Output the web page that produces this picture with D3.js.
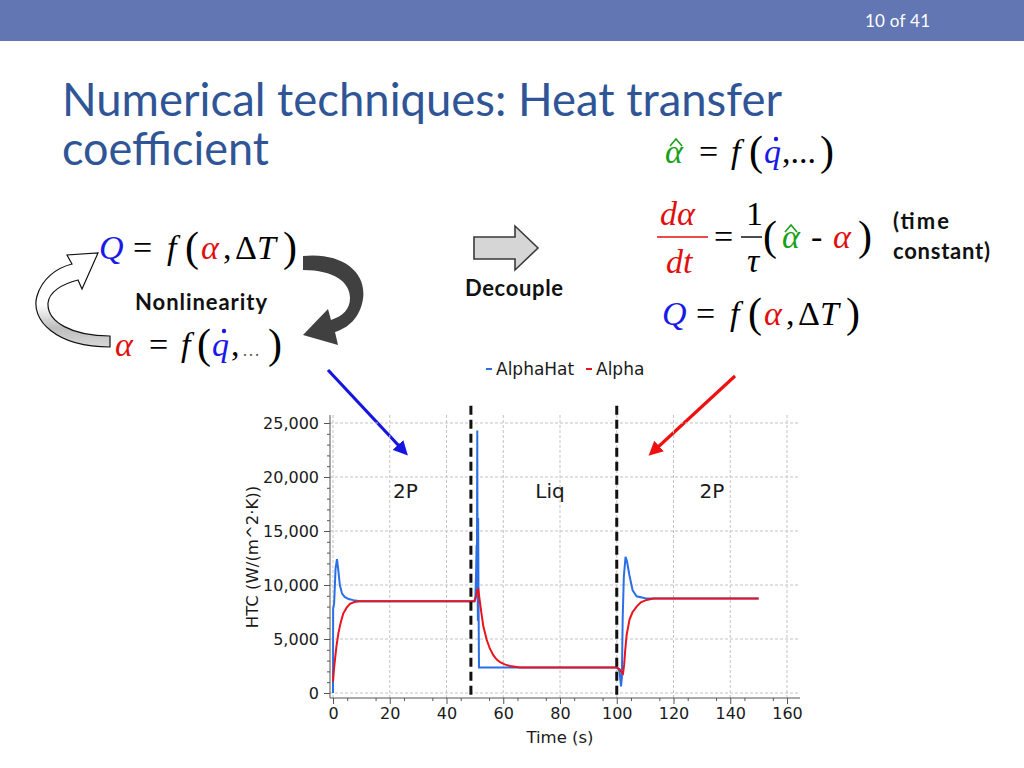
<!DOCTYPE html>
<html>
<head>
<meta charset="utf-8">
<script src="https://cdn.jsdelivr.net/npm/d3@7"></script>
<style>
body{margin:0;background:#fff;}
svg{display:block;}
</style>
</head>
<body>
<div id="vis-container"></div>
<script>
// [time (s), HTC (W/(m^2*K))]
const alphaHat = [[0,0],[0.05,7800],[0.4,8300],[0.9,11500],[1.4,12400],[1.9,11300],[2.4,10000],[3.2,9200],[4.1,8900],
    [5.5,8700],[7.2,8600],[9.5,8500],[49.9,8500],[50.2,9000],[50.45,11400],[50.6,13700],[50.7,9200],[50.85,24300],
    [50.95,12000],[51.05,6700],[51.15,16200],[51.3,8000],[51.45,2350],[100,2350],[100.5,2250],[101,1950],[101.5,600],
    [101.8,1400],[102.1,7000],[102.5,10800],[103.1,12600],[103.6,12200],[104.4,11000],[105.6,9500],[107,8950],
    [110,8780],[113,8750],[150,8750]];
const alpha = [[0,1050],[0.35,2200],[0.7,3100],[1.2,4300],[1.9,5550],[2.7,6500],[3.6,7350],[4.8,7900],[6,8250],
    [7.5,8420],[9.5,8500],[49.8,8500],[50.3,8800],[50.8,9500],[51.2,9600],[51.8,8400],[52.4,7200],[53,6150],
    [54.2,4900],[55.3,4100],[56.5,3500],[57.7,3100],[58.9,2850],[60.5,2650],[62.4,2500],[65.9,2370],[68,2350],
    [100,2350],[101,2200],[101.6,1950],[102.2,1800],[102.6,2600],[103,4000],[103.5,5400],[104.5,6800],[105.5,7450],
    [107,8000],[108.5,8400],[110.5,8620],[113,8750],[150,8750]];
const phaseTimes = [48.6, 100];
const phaseNames = ["2P", "Liq", "2P"];
const phaseNameTimes = [25.5, 76.5, 133.5];
const seriesNames = ["AlphaHat", "Alpha"];
const xTicks = [0, 20, 40, 60, 80, 100, 120, 140, 160];
const yTicks = [0, 5000, 10000, 15000, 20000, 25000];

const blue = "#2a6fe6", red = "#e8141e";
const chartFont = "DejaVu Sans", mathFont = "Liberation Serif", slideFont = "Lato";

let svg = d3.select("#vis-container")
    .append("svg")
    .attr("width", 1024)
    .attr("height", 768);

let defs = svg.append("defs");
[["arrBlue", "#1515e0"], ["arrRed", "#ee1111"]].forEach(m => {
    defs.append("marker")
        .attr("id", m[0])
        .attr("viewBox", "0 0 10 10")
        .attr("refX", 2).attr("refY", 5)
        .attr("markerWidth", 4.5).attr("markerHeight", 4.5)
        .attr("orient", "auto")
        .append("path")
        .attr("d", "M0,0 L10,5 L0,10 Z")
        .attr("fill", m[1]);
});
let grad = defs.append("linearGradient").attr("id", "ribbon")
    .attr("x1", 0).attr("y1", 0).attr("x2", 0).attr("y2", 1);
grad.append("stop").attr("offset", "55%").attr("stop-color", "#fff");
grad.append("stop").attr("offset", "80%").attr("stop-color", "#bdbdbd");
grad.append("stop").attr("offset", "100%").attr("stop-color", "#d8d8d8");

// ---- slide frame ----
svg.append("rect").attr("width", 1024).attr("height", 41).attr("fill", "#6176b3");
svg.append("text").attr("x", 865).attr("y", 27)
    .attr("font-family", slideFont).attr("font-size", 17).attr("fill", "#fff")
    .attr("textLength", 65)
    .text("10 of 41");

// title: one text, two lines
let title = svg.append("text").attr("font-family", slideFont)
    .attr("fill", "#2f5597").attr("font-size", 47);
title.append("tspan").attr("x", 62).attr("y", 116)
    .attr("textLength", 720).attr("lengthAdjust", "spacingAndGlyphs")
    .text("Numerical techniques: Heat transfer");
title.append("tspan").attr("x", 62).attr("y", 165)
    .attr("textLength", 207).attr("lengthAdjust", "spacingAndGlyphs")
    .text("coefficient");

// ---- equations ----
let eq = function(x0, y0, parts){
    let g = svg.append("g").attr("font-family", mathFont).attr("font-size", 34);
    parts.forEach(p => {
        let t = g.append("text")
            .attr("x", x0 + p.dx)
            .attr("y", y0 + (p.dy || 0))
            .attr("fill", p.c || "#000")
            .attr("font-style", p.i ? "italic" : "normal")
            .text(p.s);
        if(p.size) t.attr("font-size", p.size);
    });
    return g;
};
let dot = (cx, cy, c) => svg.append("circle").attr("cx", cx).attr("cy", cy).attr("r", 2.2).attr("fill", c);
let hat = (x0, y0, c) => svg.append("path")
    .attr("d", `M${x0},${y0} L${x0 + 6},${y0 - 7} L${x0 + 12},${y0}`)
    .attr("fill", "none").attr("stroke", c).attr("stroke-width", 1.6);

let qEq = [
    {s: "Q", dx: 0, c: "#1a1ae8", i: true},
    {s: "=", dx: 34},
    {s: "f", dx: 68, i: true},
    {s: "(", dx: 86, size: 42, dy: 2},
    {s: "α", dx: 102, c: "#e01010", i: true},
    {s: ",", dx: 124},
    {s: "Δ", dx: 136},
    {s: "T", dx: 158, i: true},
    {s: ")", dx: 184, size: 42, dy: 2}
];
eq(99, 259, qEq);
eq(662, 325, qEq);

eq(115, 356, [
    {s: "α", dx: 0, c: "#e01010", i: true},
    {s: "=", dx: 34},
    {s: "f", dx: 66, i: true},
    {s: "(", dx: 82, size: 42, dy: 2},
    {s: "q", dx: 97, c: "#1a1ae8", i: true},
    {s: ",", dx: 116},
    {s: "…", dx: 127, c: "#666", size: 18},
    {s: ")", dx: 153, size: 42, dy: 2}
]);
dot(224, 331, "#1a1ae8");

eq(665, 163, [
    {s: "α", dx: 0, c: "#18a018", i: true},
    {s: "=", dx: 34},
    {s: "f", dx: 66, i: true},
    {s: "(", dx: 84, size: 42, dy: 2},
    {s: "q", dx: 99, c: "#1a1ae8", i: true},
    {s: ",...", dx: 117},
    {s: ")", dx: 155, size: 42, dy: 2}
]);
hat(670, 146, "#18a018");
dot(776, 139, "#1a1ae8");

eq(660, 225, [
    {s: "dα", dx: 0, c: "#e01010", i: true},
    {s: "dt", dx: 6, dy: 48, c: "#e01010", i: true},
    {s: "=", dx: 54, dy: 23},
    {s: "1", dx: 86},
    {s: "τ", dx: 87, dy: 47, i: true},
    {s: "(", dx: 103, dy: 25, size: 42},
    {s: "α", dx: 122, dy: 23, c: "#18a018", i: true},
    {s: "-", dx: 151, dy: 23},
    {s: "α", dx: 173, dy: 23, c: "#e01010", i: true},
    {s: ")", dx: 198, dy: 25, size: 42}
]);
svg.append("line").attr("x1", 657).attr("x2", 708).attr("y1", 237).attr("y2", 237).attr("stroke", "#e01010").attr("stroke-width", 1.4);
svg.append("line").attr("x1", 741).attr("x2", 762).attr("y1", 237).attr("y2", 237).attr("stroke", "#000").attr("stroke-width", 1.4);
hat(785, 232, "#18a018");

let bold = svg.append("g").attr("font-family", slideFont).attr("font-weight", "bold").attr("font-size", 22).attr("fill", "#111");
bold.append("text").attr("x", 893).attr("y", 229).attr("textLength", 56).text("(time");
bold.append("text").attr("x", 893).attr("y", 259).attr("textLength", 97).text("constant)");
bold.append("text").attr("x", 135).attr("y", 310).attr("textLength", 132).text("Nonlinearity");
bold.append("text").attr("x", 465).attr("y", 296).attr("textLength", 98).text("Decouple");

// ---- decorative arrows ----
svg.append("path")
    .attr("d", "M474,237 L515,237 L515,226 L538,248 L515,270 L515,259 L474,259 Z")
    .attr("fill", "#d6d6d6").attr("stroke", "#3a3a3a").attr("stroke-width", 1.6);
svg.append("path")
    .attr("d", "M303,256 C342,252 367,272 363,299 C360,318 348,328 335,332 L338,345 L303,335 L328,309 L331,320 C343,316 350,309 350,298 C350,282 334,270 303,270 Z")
    .attr("fill", "#404040");
svg.append("path")
    .attr("d", "M110,347 C56,347 30,320 37,296 C42,279 56,268 72,264 L67,255 L98,253 L82,289 L78,280 C62,284 49,292 48,303 C47,322 72,336 110,336 Z")
    .attr("fill", "url(#ribbon)").attr("stroke", "#111").attr("stroke-width", 1.2);
svg.append("line").attr("x1", 328).attr("y1", 370).attr("x2", 400).attr("y2", 447)
    .attr("stroke", "#1515e0").attr("stroke-width", 3.2).attr("marker-end", "url(#arrBlue)");
svg.append("line").attr("x1", 735).attr("y1", 376).attr("x2", 657).attr("y2", 448)
    .attr("stroke", "#ee1111").attr("stroke-width", 3.2).attr("marker-end", "url(#arrRed)");

// ---- chart ----
const x = d3.scaleLinear().domain([0, 160]).range([333, 787]);
const y = d3.scaleLinear().domain([0, 25000]).range([693, 423]);
const plotTop = 415, plotRight = 800, axisX = 330, axisY = 698;

let chart = svg.append("g").attr("font-family", chartFont).attr("fill", "#1a1a1a");

chart.selectAll(".vgrid").data(xTicks).enter().append("line")
    .attr("x1", d => x(d)).attr("x2", d => x(d))
    .attr("y1", plotTop).attr("y2", axisY)
    .attr("stroke", "#c3c3c3").attr("stroke-dasharray", "3,2");
chart.selectAll(".hgrid").data(yTicks).enter().append("line")
    .attr("x1", axisX).attr("x2", plotRight)
    .attr("y1", d => y(d)).attr("y2", d => y(d))
    .attr("stroke", "#c3c3c3").attr("stroke-dasharray", "3,2");

let xAxis = chart.append("g").attr("transform", `translate(0,${axisY})`)
    .call(d3.axisBottom(x).tickValues(xTicks).tickSize(6).tickPadding(4).tickSizeOuter(0));
chart.append("g").attr("transform", `translate(0,${axisY})`)
    .call(d3.axisBottom(x).tickValues(d3.range(5, 160, 10)).tickSize(3).tickFormat("").tickSizeOuter(0))
    .select(".domain").remove();
let yAxis = chart.append("g").attr("transform", `translate(${axisX},0)`)
    .call(d3.axisLeft(y).tickValues(yTicks).tickFormat(d3.format(",")).tickSize(6).tickPadding(5).tickSizeOuter(0));
chart.append("g").attr("transform", `translate(${axisX},0)`)
    .call(d3.axisLeft(y).tickValues(d3.range(1000, 25000, 1000).filter(v => v % 5000)).tickSize(3).tickFormat("").tickSizeOuter(0))
    .select(".domain").remove();
[xAxis, yAxis].forEach(a => {
    a.attr("font-family", chartFont).attr("font-size", 16);
    a.select(".domain").remove();
    a.selectAll("text").attr("fill", "#1a1a1a");
});
chart.selectAll(".tick line").attr("stroke", "#555");
chart.append("line").attr("x1", axisX).attr("x2", axisX).attr("y1", plotTop).attr("y2", axisY).attr("stroke", "#555");
chart.append("line").attr("x1", axisX).attr("x2", plotRight).attr("y1", axisY).attr("y2", axisY).attr("stroke", "#555");

chart.append("text")
    .attr("transform", "translate(258,557) rotate(-90)")
    .attr("text-anchor", "middle").attr("font-size", 16.5)
    .text("HTC (W/(m^2·K))");
chart.append("text")
    .attr("x", 560).attr("y", 743)
    .attr("text-anchor", "middle").attr("font-size", 16.5)
    .text("Time (s)");

let line = d3.line().x(d => x(d[0])).y(d => y(d[1]));
chart.append("path").datum(alphaHat)
    .attr("d", line).attr("fill", "none").attr("stroke", blue).attr("stroke-width", 2);
chart.append("path").datum(alpha)
    .attr("d", line).attr("fill", "none").attr("stroke", red).attr("stroke-width", 2);

chart.selectAll(".phase").data(phaseTimes).enter().append("line")
    .attr("x1", d => x(d)).attr("x2", d => x(d))
    .attr("y1", y(26600)).attr("y2", axisY)
    .attr("stroke", "#111").attr("stroke-width", 3).attr("stroke-dasharray", "9,5");
chart.selectAll(".phaseName").data(phaseNames).enter().append("text")
    .attr("x", (d, i) => x(phaseNameTimes[i]))
    .attr("y", y(18050))
    .attr("text-anchor", "middle").attr("font-size", 20)
    .text(d => d);

// legend
let legend = chart.append("g").attr("font-size", 17);
let legendX = [486, 586];
seriesNames.forEach((n, i) => {
    legend.append("line")
        .attr("x1", legendX[i]).attr("x2", legendX[i] + 6)
        .attr("y1", 369).attr("y2", 369)
        .attr("stroke", i ? red : blue).attr("stroke-width", 2);
    legend.append("text").attr("x", legendX[i] + 10).attr("y", 375).text(n);
});
</script>
</body>
</html>
